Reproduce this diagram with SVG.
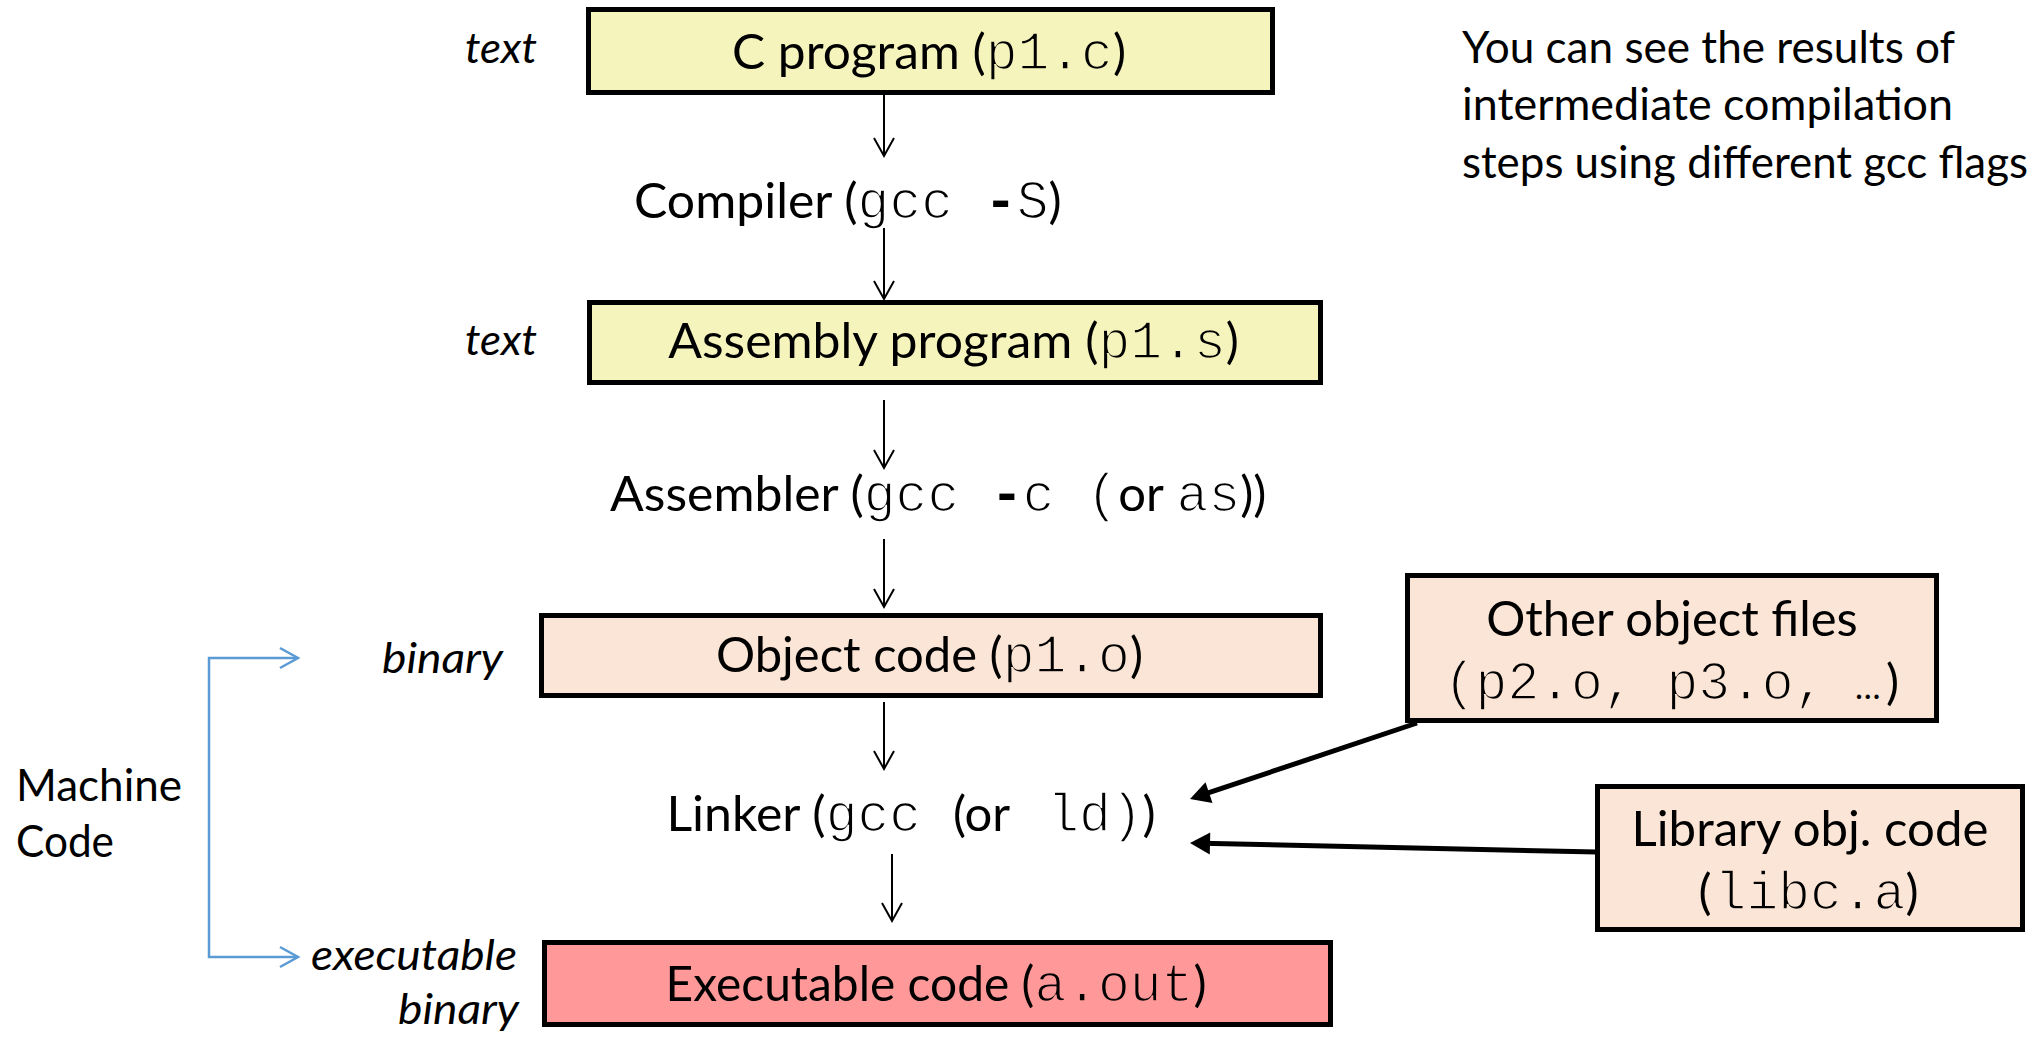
<svg xmlns="http://www.w3.org/2000/svg" width="2038" height="1037" viewBox="0 0 2038 1037">
<style>
.s{font-family:Lato,"Open Sans","Noto Sans",sans-serif;font-size:49px;fill:#000}
.l{font-size:43.5px}
.i{font-style:italic}
.m{font-family:"Liberation Mono","Courier New",monospace;font-size:53px;stroke-width:1.6px}
.b{font-weight:bold;stroke:none}
.kw{stroke:#fff}
.ky{stroke:#f6f4bd}
.kp{stroke:#fbe5d6}
.kr{stroke:#ff9999}
.e{font-size:34px}
.box{stroke:#000;stroke-width:5}
.y{fill:#f6f4bd}
.p{fill:#fbe5d6}
.r{fill:#ff9999}
.thin{stroke:#000;stroke-width:2;fill:none}
.thick{stroke:#000;stroke-width:5;fill:none}
.blue{stroke:#5b9bd5;stroke-width:2.5;fill:none}
</style>
<defs>
<marker id="open" markerUnits="userSpaceOnUse" markerWidth="24" markerHeight="26" refX="20" refY="12" orient="auto" overflow="visible">
<path d="M2,2 L20,12 L2,22" fill="none" stroke="#000" stroke-width="2"/>
</marker>
<marker id="solid" markerUnits="userSpaceOnUse" markerWidth="24" markerHeight="26" refX="8" refY="11" orient="auto" overflow="visible">
<path d="M0,0 L20,11 L0,22 z" fill="#000"/>
</marker>
<marker id="blueopen" markerUnits="userSpaceOnUse" markerWidth="24" markerHeight="26" refX="19" refY="11" orient="auto-start-reverse" overflow="visible">
<path d="M1,1 L19,11 L1,21" fill="none" stroke="#5b9bd5" stroke-width="2.5"/>
</marker>
</defs>

<g id="connectors">
<line class="thin" x1="884" y1="95" x2="884" y2="156" marker-end="url(#open)"/>
<line class="thin" x1="884" y1="228" x2="884" y2="299" marker-end="url(#open)"/>
<line class="thin" x1="884" y1="400" x2="884" y2="468" marker-end="url(#open)"/>
<line class="thin" x1="884" y1="539" x2="884" y2="607" marker-end="url(#open)"/>
<line class="thin" x1="884" y1="702" x2="884" y2="769" marker-end="url(#open)"/>
<line class="thin" x1="892" y1="854" x2="892" y2="921" marker-end="url(#open)"/>
<line class="thick" x1="1417" y1="723" x2="1201.4" y2="795.2" marker-end="url(#solid)"/>
<line class="thick" x1="1597" y1="852" x2="1202" y2="843.3" marker-end="url(#solid)"/>
<path class="blue" d="M298,658 H209 V957 H298" marker-start="url(#blueopen)" marker-end="url(#blueopen)"/>
</g>

<g id="label-text1"><text class="s l i" x="537" y="63" text-anchor="end" textLength="72" lengthAdjust="spacingAndGlyphs">text</text></g>
<g id="label-text2"><text class="s l i" x="537" y="355" text-anchor="end" textLength="72" lengthAdjust="spacingAndGlyphs">text</text></g>
<g id="label-binary"><text class="s l i" x="503" y="673" text-anchor="end" textLength="121" lengthAdjust="spacingAndGlyphs">binary</text></g>
<g id="label-executable"><text class="s l i" x="517" y="970" text-anchor="end" textLength="206" lengthAdjust="spacingAndGlyphs">executable</text>
<text class="s l i" x="519" y="1024" text-anchor="end" textLength="121" lengthAdjust="spacingAndGlyphs">binary</text></g>

<g id="machine-code">
<text class="s l" x="16" y="801" textLength="166" lengthAdjust="spacingAndGlyphs">Machine</text>
<text class="s l" x="16" y="857" textLength="98" lengthAdjust="spacingAndGlyphs">Code</text>
</g>

<g id="note">
<text class="s l" x="1462" y="63" textLength="493" lengthAdjust="spacingAndGlyphs">You can see the results of</text>
<text class="s l" x="1462" y="120" textLength="491" lengthAdjust="spacingAndGlyphs">intermediate compilation</text>
<text class="s l" x="1462" y="178" textLength="566" lengthAdjust="spacingAndGlyphs">steps using different gcc flags</text>
</g>

<g id="c-program">
<rect class="box y" x="588.5" y="9.5" width="684" height="83"/>
<text class="s" y="69"><tspan x="732" textLength="253.7" lengthAdjust="spacingAndGlyphs">C program (</tspan><tspan class="m ky" x="985.7">p1.c</tspan><tspan x="1112.9">)</tspan></text>
</g>

<g id="compiler">
<text class="s" y="218"><tspan x="634" textLength="223.6" lengthAdjust="spacingAndGlyphs">Compiler (</tspan><tspan class="m kw" x="857.6">gcc <tspan class="b">-</tspan>S</tspan><tspan x="1048.4">)</tspan></text>
</g>

<g id="assembly-program">
<rect class="box y" x="589.5" y="302.5" width="731" height="80"/>
<text class="s" y="358"><tspan x="668.2" textLength="430.3" lengthAdjust="spacingAndGlyphs">Assembly program (</tspan><tspan class="m ky" x="1098.5">p1.s</tspan><tspan x="1225.7">)</tspan></text>
</g>

<g id="assembler">
<text class="s" y="511"><tspan x="610" textLength="253.8" lengthAdjust="spacingAndGlyphs">Assembler (</tspan><tspan class="m kw" x="863.8">gcc <tspan class="b">-</tspan>c (</tspan><tspan x="1118.2">or </tspan><tspan class="m kw" x="1176.6">as</tspan><tspan x="1240.2">))</tspan></text>
</g>

<g id="object-code">
<rect class="box p" x="541.5" y="615.5" width="779" height="80"/>
<text class="s" y="672"><tspan x="716" textLength="286.7" lengthAdjust="spacingAndGlyphs">Object code (</tspan><tspan class="m kp" x="1002.7">p1.o</tspan><tspan x="1129.9">)</tspan></text>
</g>

<g id="linker">
<text class="s" y="831"><tspan x="666.4" textLength="159.3" lengthAdjust="spacingAndGlyphs">Linker (</tspan><tspan class="m kw" x="825.7">gcc </tspan><tspan x="952.9">(or</tspan><tspan class="m kw" x="1015.4"> ld)</tspan><tspan x="1142.6">)</tspan></text>
</g>

<g id="executable-code">
<rect class="box r" x="544.5" y="942.5" width="786" height="82"/>
<text class="s" y="1001"><tspan x="665.5" textLength="368.9" lengthAdjust="spacingAndGlyphs">Executable code (</tspan><tspan class="m kr" x="1034.4">a.out</tspan><tspan x="1193.4">)</tspan></text>
</g>

<g id="other-object-files">
<rect class="box p" x="1407.5" y="575.5" width="529" height="145"/>
<text class="s" x="1486.2" y="636" textLength="371.6" lengthAdjust="spacingAndGlyphs">Other object files</text>
<text class="s" y="699"><tspan class="m kp" x="1443.8">(p2.o, p3.o, </tspan><tspan class="e" x="1855">…</tspan><tspan x="1886">)</tspan></text>
</g>

<g id="library-obj-code">
<rect class="box p" x="1597.5" y="786.5" width="425" height="143"/>
<text class="s" x="1631.6" y="846" textLength="356.8" lengthAdjust="spacingAndGlyphs">Library obj. code</text>
<text class="s" y="909"><tspan x="1698.5">(</tspan><tspan class="m kp" x="1714.6">libc.a</tspan><tspan x="1905.4">)</tspan></text>
</g>
</svg>
